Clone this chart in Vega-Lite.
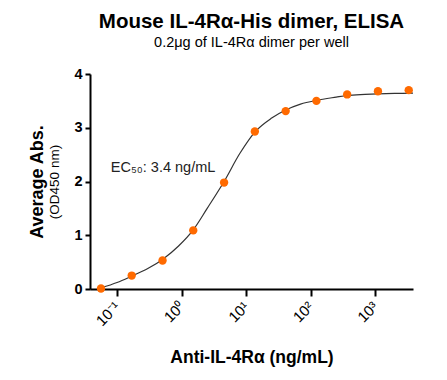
{
  "$schema": "https://vega.github.io/schema/vega-lite/v6.json",
  "width": 323,
  "height": 215,
  "padding": {"left": 28, "top": 12, "right": 5, "bottom": 5},
  "background": "white",
  "config": {
    "view": {"stroke": null},
    "font": "Liberation Sans",
    "axis": {"grid": false, "domainColor": "black", "domainWidth": 2, "tickColor": "black", "tickWidth": 2, "labelColor": "black", "titleColor": "black", "labelFont": "Liberation Sans", "titleFont": "Liberation Sans"}
  },
  "title": {
    "text": "Mouse IL-4Rα-His dimer, ELISA",
    "subtitle": "0.2μg of IL-4Rα dimer per well",
    "anchor": "middle",
    "font": "Liberation Sans",
    "fontSize": 20.5,
    "fontWeight": "bold",
    "color": "black",
    "subtitleFont": "Liberation Sans",
    "subtitleFontSize": 14.5,
    "subtitleColor": "black",
    "subtitlePadding": 3,
    "offset": 17
  },
  "datasets": {
    "points": [
      {"conc": 0.0564, "abs": 0.01},
      {"conc": 0.169, "abs": 0.25},
      {"conc": 0.508, "abs": 0.53},
      {"conc": 1.52, "abs": 1.09},
      {"conc": 4.57, "abs": 1.98},
      {"conc": 13.7, "abs": 2.93},
      {"conc": 41.2, "abs": 3.31},
      {"conc": 123.5, "abs": 3.50},
      {"conc": 370, "abs": 3.62},
      {"conc": 1111, "abs": 3.68},
      {"conc": 3333, "abs": 3.70}
    ],
    "curve": [
      {"conc": 0.0564, "fit": 0.02},
      {"conc": 0.1, "fit": 0.12},
      {"conc": 0.169, "fit": 0.24},
      {"conc": 0.3, "fit": 0.38},
      {"conc": 0.508, "fit": 0.55},
      {"conc": 0.9, "fit": 0.80},
      {"conc": 1.52, "fit": 1.10},
      {"conc": 2.5, "fit": 1.50},
      {"conc": 4.57, "fit": 2.00},
      {"conc": 8, "fit": 2.52},
      {"conc": 13.7, "fit": 2.92},
      {"conc": 25, "fit": 3.18},
      {"conc": 41.2, "fit": 3.33},
      {"conc": 70, "fit": 3.44},
      {"conc": 123.5, "fit": 3.51},
      {"conc": 250, "fit": 3.57},
      {"conc": 370, "fit": 3.60},
      {"conc": 700, "fit": 3.62},
      {"conc": 1111, "fit": 3.63},
      {"conc": 2000, "fit": 3.64},
      {"conc": 3880, "fit": 3.645}
    ],
    "label": [
      {"conc": 0.08, "y": 2.26, "text": "EC₅₀: 3.4 ng/mL"}
    ]
  },
  "layer": [
    {
      "data": {"name": "curve"},
      "mark": {"type": "line", "color": "#333333", "strokeWidth": 1.2, "interpolate": "monotone"},
      "encoding": {
        "x": {
          "field": "conc", "type": "quantitative",
          "scale": {"type": "log", "domain": [0.0381, 3882], "nice": false},
          "axis": {
            "title": "Anti-IL-4Rα (ng/mL)",
            "titleFontSize": 17.5, "titleFontWeight": "bold", "titlePadding": 20,
            "values": [0.1, 1, 10, 100, 1000],
            "labelExpr": "datum.value == 0.1 ? '10⁻¹' : datum.value == 1 ? '10⁰' : datum.value == 10 ? '10¹' : datum.value == 100 ? '10²' : '10³'",
            "labelAngle": -45, "labelAlign": "right", "labelBaseline": "middle",
            "labelFontSize": 15, "labelPadding": 8, "tickSize": 7
          }
        },
        "y": {
          "field": "fit", "type": "quantitative",
          "scale": {"domain": [0, 4], "nice": false},
          "axis": {
            "orient": "left",
            "title": "(OD450 nm)", "titleFontSize": 13.5, "titleFontWeight": "normal", "titlePadding": 12,
            "values": [0, 1, 2, 3, 4], "labelFontSize": 14.5, "labelFontWeight": "bold", "tickSize": 5, "labelPadding": 3
          }
        }
      }
    },
    {
      "data": {"name": "points"},
      "mark": {"type": "circle", "color": "#FF6A00", "opacity": 1, "size": 70},
      "encoding": {
        "x": {"field": "conc", "type": "quantitative"},
        "y": {
          "field": "abs", "type": "quantitative",
          "axis": {
            "orient": "left",
            "title": "Average Abs.", "titleFontSize": 18, "titleFontWeight": "bold",
            "labels": false, "ticks": false, "domain": false, "titlePadding": 44
          }
        }
      }
    },
    {
      "data": {"name": "label"},
      "mark": {"type": "text", "align": "left", "baseline": "middle", "fontSize": 14.5, "color": "#222222", "font": "Liberation Sans"},
      "encoding": {
        "x": {"field": "conc", "type": "quantitative"},
        "y": {"field": "y", "type": "quantitative", "axis": null},
        "text": {"field": "text"}
      }
    }
  ],
  "resolve": {"axis": {"y": "independent"}}
}
